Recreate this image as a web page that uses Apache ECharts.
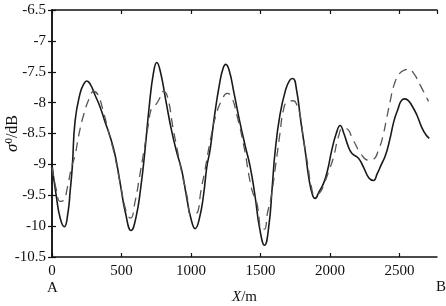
<!DOCTYPE html>
<html>
<head>
<meta charset="utf-8">
<script src="https://cdn.jsdelivr.net/npm/echarts@6/dist/echarts.min.js"></script>
<style>
  html, body {margin:0; padding:0; background:#fff;}
  #chart {width:446px; height:306px;}
</style>
</head>
<body>
<div id="chart"></div>
<script type="text/javascript">
  // solid curve: [X/m, sigma0/dB]
  var solidData = [
    [0,-9.01],[30,-9.5],[60,-9.88],[89,-10.01],[115,-9.78],[130,-9.45],[146,-9.04],[166,-8.3],
    [202,-7.85],[228,-7.7],[250,-7.65],[275,-7.7],[310,-7.88],[346,-8.07],[380,-8.3],[418,-8.55],
    [454,-8.85],[490,-9.3],[530,-9.8],[569,-10.07],[605,-9.85],[640,-9.35],[669,-8.77],[700,-8.05],
    [730,-7.52],[754,-7.35],[780,-7.5],[820,-7.98],[860,-8.45],[897,-8.8],[934,-9.1],[970,-9.55],
    [1000,-9.88],[1030,-10.04],[1060,-9.88],[1090,-9.5],[1114,-9.04],[1137,-8.77],[1170,-8.2],
    [1205,-7.7],[1230,-7.45],[1250,-7.38],[1275,-7.48],[1310,-7.85],[1350,-8.3],[1390,-8.7],
    [1426,-9.04],[1460,-9.5],[1495,-10.05],[1529,-10.31],[1560,-10.0],[1585,-9.35],[1605,-8.8],
    [1640,-8.2],[1680,-7.8],[1710,-7.64],[1733,-7.61],[1760,-7.8],[1790,-8.3],[1821,-8.77],
    [1850,-9.25],[1875,-9.5],[1893,-9.55],[1920,-9.45],[1955,-9.3],[1982,-9.1],[2013,-8.77],
    [2045,-8.5],[2073,-8.37],[2100,-8.5],[2130,-8.7],[2157,-8.82],[2205,-8.9],[2240,-9.04],
    [2280,-9.22],[2313,-9.26],[2340,-9.15],[2370,-9.0],[2400,-8.85],[2430,-8.6],[2460,-8.3],
    [2490,-8.1],[2510,-7.98],[2534,-7.94],[2560,-7.96],[2590,-8.05],[2625,-8.2],[2660,-8.4],
    [2690,-8.52],[2714,-8.58]
  ];
  // dashed curve
  var dashedData = [
    [0,-9.05],[30,-9.4],[60,-9.6],[85,-9.58],[110,-9.38],[140,-9.05],[166,-8.85],[195,-8.5],
    [230,-8.18],[270,-7.92],[300,-7.82],[330,-7.87],[370,-8.15],[410,-8.5],[450,-8.85],[490,-9.3],
    [537,-9.79],[565,-9.87],[598,-9.6],[630,-9.2],[660,-8.8],[690,-8.4],[717,-8.08],[740,-8.05],
    [770,-7.95],[800,-7.82],[830,-7.9],[870,-8.4],[900,-8.75],[934,-9.14],[970,-9.5],[1000,-9.82],
    [1030,-9.8],[1050,-9.76],[1070,-9.45],[1100,-9.1],[1140,-8.6],[1180,-8.2],[1224,-7.95],
    [1260,-7.85],[1290,-7.9],[1330,-8.2],[1380,-8.7],[1438,-9.41],[1474,-9.63],[1510,-10.05],
    [1530,-10.05],[1549,-9.8],[1575,-9.55],[1610,-9.0],[1640,-8.5],[1665,-8.12],[1692,-7.99],
    [1737,-7.97],[1762,-8.04],[1785,-8.2],[1810,-8.6],[1840,-9.0],[1865,-9.35],[1893,-9.5],
    [1930,-9.45],[1960,-9.3],[1990,-9.12],[2026,-8.88],[2061,-8.55],[2090,-8.42],[2112,-8.42],
    [2172,-8.63],[2220,-8.82],[2275,-8.93],[2310,-8.92],[2352,-8.75],[2380,-8.55],[2408,-8.25],
    [2433,-7.98],[2460,-7.72],[2500,-7.53],[2540,-7.47],[2565,-7.46],[2600,-7.52],[2650,-7.72],
    [2709,-7.98]
  ];
  var xTicks = [0, 500, 1000, 1500, 2000, 2500];
  var yTicks = [-10.5, -10, -9.5, -9, -8.5, -8, -7.5, -7, -6.5];

  var font = '"Liberation Serif", "Times New Roman", serif';
  var axisLine = {show:true, lineStyle:{color:'#111', width:1.5}};
  var tick = {show:true, inside:true, length:4, lineStyle:{color:'#111', width:1.2}};

  var chart = echarts.init(document.getElementById('chart'));
  chart.setOption({
    animation: false,
    backgroundColor: '#fff',
    grid: {left:52, right:9, top:10, bottom:49, containLabel:false, outerBoundsMode:'none'},
    xAxis: [{
      type:'value', min:0, max:2770, interval:500, position:'bottom',
      axisLine:axisLine, axisTick:tick, splitLine:{show:false},
      axisLabel:{
        color:'#111', fontFamily:font, fontSize:15, margin:7, showMaxLabel:false,
        formatter:function (v) { return xTicks.indexOf(v) >= 0 ? String(v) : ''; }
      },
      name:'{i|X}{n|/m}', nameLocation:'middle', nameGap:33, nameMoveOverlap:false,
      nameTextStyle:{rich:{
        i:{fontFamily:font, fontSize:15, fontStyle:'italic', color:'#111'},
        n:{fontFamily:font, fontSize:15, color:'#111'}
      }}
    }, {
      type:'value', min:0, max:2770, interval:500, position:'top',
      axisLine:axisLine, axisTick:tick, axisLabel:{show:false}, splitLine:{show:false}
    }],
    yAxis: [{
      type:'value', min:-10.5, max:-6.5, interval:0.5, position:'left',
      axisLine:axisLine, axisTick:tick, splitLine:{show:false},
      axisLabel:{
        color:'#111', fontFamily:font, fontSize:15, margin:6,
        formatter:function (v) { return yTicks.indexOf(v) >= 0 ? String(v) : ''; }
      },
      name:'{i|σ}{s|0}{n|/dB}', nameLocation:'middle', nameGap:30, nameRotate:90,
      nameMoveOverlap:false,
      nameTextStyle:{rich:{
        i:{fontFamily:font, fontSize:17, fontStyle:'italic', color:'#111'},
        s:{fontFamily:font, fontSize:11, color:'#111', verticalAlign:'top', padding:[0,0,7,0]},
        n:{fontFamily:font, fontSize:16, color:'#111'}
      }}
    }, {
      type:'value', min:-10.5, max:-6.5, interval:0.5, position:'right',
      axisLine:axisLine, axisTick:tick, axisLabel:{show:false}, splitLine:{show:false}
    }],
    graphic: [
      {type:'text', left:47, top:281, style:{text:'A', font:'15px ' + font, fill:'#111'}},
      {type:'text', left:436, top:280, style:{text:'B', font:'15px ' + font, fill:'#111'}}
    ],
    series: [{
      type:'line', data:solidData, smooth:0.5, showSymbol:false,
      lineStyle:{color:'#1a1a1a', width:1.6}
    }, {
      type:'line', data:dashedData, smooth:0.5, showSymbol:false,
      lineStyle:{color:'#555', width:1.3, type:[9,6]}
    }]
  });
</script>
</body>
</html>
